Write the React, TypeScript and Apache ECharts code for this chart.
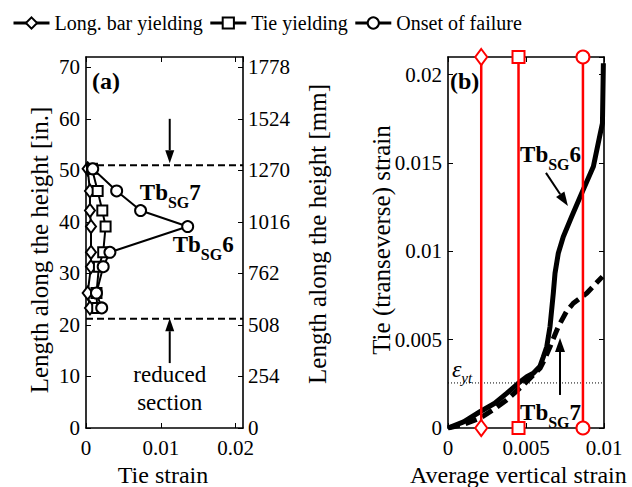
import React, { useEffect, useRef } from 'react';
import * as echarts from 'echarts';

const FONT = 'Liberation Serif, serif';

// ---- Panel (a): strain profiles along the height ----
const heightsIn = [50.3, 46.0, 42.2, 39.1, 34.1, 31.3, 26.2, 23.3];
const barYieldingStrain = [0.00022, 0.00053, 0.00053, 0.00067, 0.00067, 0.00067, 0.00022, 0.00053];
const tieYieldingStrain = [0.0008, 0.00156, 0.00218, 0.00262, 0.0023, 0.00173, 0.0014, 0.0015];
const failureStrain = [0.0009, 0.0041, 0.0073, 0.0136, 0.0032, 0.0023, 0.0014, 0.0021];
const reducedSectionLimits = [51.0, 21.2];
const inchTicks = [0, 10, 20, 30, 40, 50, 60, 70];

// ---- Panel (b): tie strain vs average vertical strain ----
const sg6Avg = [0, 0.001, 0.00205, 0.003, 0.00376, 0.0045, 0.00505, 0.00547, 0.0059, 0.0061, 0.00633, 0.00654, 0.00675, 0.00686, 0.00707, 0.00739, 0.00793, 0.00857, 0.00932, 0.00974, 0.0099, 0.00996];
const sg6Tie = [0, 0.00035, 0.00092, 0.0014, 0.00196, 0.00253, 0.0029, 0.0031, 0.0035, 0.0040, 0.0046, 0.00574, 0.00763, 0.00876, 0.00989, 0.01083, 0.01197, 0.01329, 0.0148, 0.01659, 0.01725, 0.02065];
const sg7Avg = [0, 0.001, 0.00205, 0.003, 0.00376, 0.00483, 0.0059, 0.0062, 0.00654, 0.00707, 0.0076, 0.00803, 0.00889, 0.0099];
const sg7Tie = [0, 0.0002, 0.00055, 0.0011, 0.00159, 0.00243, 0.00338, 0.0039, 0.0046, 0.00574, 0.0066, 0.00706, 0.00763, 0.00857];
const eventNames = ['Long. bar yielding', 'Tie yielding', 'Onset of failure'];
const eventAvgStrain = [0.00213, 0.00452, 0.00865];
const yieldTieStrain = 0.00255;

const X_A_MAX = 0.021;
const Y_A_MAX = 72;
const MM_PER_IN = 25.4;
const X_B_MAX = 0.01;
const Y_B_MAX = 0.021;

const plain = (v: number) => String(Math.round(v * 1e6) / 1e6);

const axisBase = {
  axisLine: { onZero: false, lineStyle: { color: '#000', width: 1.6 } },
  axisTick: { inside: true, length: 5, lineStyle: { color: '#000', width: 1 } },
  splitLine: { show: false },
  axisLabel: { color: '#000', fontSize: 21, lineHeight: 18, fontFamily: FONT, showMaxLabel: false, margin: 6, formatter: plain },
};
const xLabel = { ...axisBase.axisLabel, margin: 11 };

export default function App() {
  const ref = useRef<HTMLDivElement>(null);
  useEffect(() => {
    if (!ref.current) return;
    const chart = echarts.init(ref.current, null, { renderer: 'svg' });
    const blackLine = (name: string, symbol: string, size: any, xs: number[]) => ({
      name,
      type: 'line',
      xAxisIndex: 0,
      yAxisIndex: 0,
      data: heightsIn.map((h, i) => [xs[i], h]),
      symbol,
      symbolSize: size,
      showAllSymbol: true,
      lineStyle: { color: '#000', width: 2 },
      itemStyle: { color: '#000', borderColor: '#000', borderWidth: 2 },
      z: 5,
    });
    const series: any[] = [
      ...reducedSectionLimits.map((h) => ({
        type: 'line', xAxisIndex: 0, yAxisIndex: 0, symbol: 'none',
        data: [[0, h], [X_A_MAX, h]],
        lineStyle: { color: '#000', width: 2, type: [7, 4] }, z: 2,
      })),
      blackLine(eventNames[0], 'emptyDiamond', [10, 13], barYieldingStrain),
      blackLine(eventNames[1], 'emptyRect', 10, tieYieldingStrain),
      blackLine(eventNames[2], 'emptyCircle', 11, failureStrain),
      {
        type: 'line', xAxisIndex: 2, yAxisIndex: 2, symbol: 'none',
        data: [[0, yieldTieStrain], [X_B_MAX, yieldTieStrain]],
        lineStyle: { color: '#000', width: 1, type: [1, 2] }, z: 2,
      },
      {
        type: 'line', xAxisIndex: 2, yAxisIndex: 2, symbol: 'none',
        data: sg7Avg.map((x, i) => [x, sg7Tie[i]]),
        lineStyle: { color: '#000', width: 5, type: [12, 6] }, z: 3,
      },
      {
        type: 'line', xAxisIndex: 2, yAxisIndex: 2, symbol: 'none',
        data: sg6Avg.map((x, i) => [x, sg6Tie[i]]),
        lineStyle: { color: '#000', width: 5 }, z: 3,
      },
      ...eventAvgStrain.map((x, i) => ({
        name: 'red' + i,
        type: 'line', xAxisIndex: 2, yAxisIndex: 2, clip: false,
        data: [[x, 0], [x, Y_B_MAX]],
        symbol: ['emptyDiamond', 'emptyRect', 'emptyCircle'][i],
        symbolSize: [[12, 16], 12, 13][i],
        lineStyle: { color: '#ff0000', width: 2.5 },
        itemStyle: { color: '#ff0000', borderColor: '#ff0000', borderWidth: 2.5 },
        z: 6,
      })),
    ];

    chart.setOption({
      animation: false,
      textStyle: { fontFamily: FONT },
      legend: {
        data: eventNames,
        left: 7, top: 8, itemWidth: 36, itemHeight: 14, itemGap: 6,
        textStyle: { fontSize: 20, fontFamily: FONT, color: '#000' },
        lineStyle: { width: 3 },
      },
      grid: [
        { left: 86, top: 57, width: 157, height: 371, outerBoundsMode: 'none' },
        { left: 448, top: 57, width: 156, height: 371, outerBoundsMode: 'none' },
      ],
      xAxis: [
        { ...axisBase, type: 'value', gridIndex: 0, position: 'bottom', min: 0, max: X_A_MAX, interval: 0.01, axisLabel: xLabel },
        { ...axisBase, type: 'value', gridIndex: 0, position: 'top', min: 0, max: X_A_MAX, interval: 0.01, axisLabel: { show: false } },
        { ...axisBase, type: 'value', gridIndex: 1, position: 'bottom', min: 0, max: X_B_MAX, interval: 0.005, axisLabel: { ...xLabel, showMaxLabel: true } },
        { ...axisBase, type: 'value', gridIndex: 1, position: 'top', min: 0, max: X_B_MAX, interval: 0.005, axisLabel: { show: false } },
      ],
      yAxis: [
        { ...axisBase, type: 'value', gridIndex: 0, position: 'left', min: 0, max: Y_A_MAX, interval: inchTicks[1] - inchTicks[0] },
        { ...axisBase, type: 'value', gridIndex: 0, position: 'right', min: 0, max: Y_A_MAX * MM_PER_IN, interval: (inchTicks[1] - inchTicks[0]) * MM_PER_IN, axisLabel: { ...axisBase.axisLabel, margin: 5 } },
        { ...axisBase, type: 'value', gridIndex: 1, position: 'left', min: 0, max: Y_B_MAX, interval: 0.005 },
        { ...axisBase, type: 'value', gridIndex: 1, position: 'right', min: 0, max: Y_B_MAX, interval: 0.005, axisLabel: { show: false } },
      ],
      series,
    });

    const pa = (x: number, y: number) => chart.convertToPixel({ xAxisIndex: 0, yAxisIndex: 0 }, [x, y]) as number[];
    const pb = (x: number, y: number) => chart.convertToPixel({ xAxisIndex: 2, yAxisIndex: 2 }, [x, y]) as number[];

    const arrow = (a: number[], b: number[], head = 13, hw = 4.5) => {
      const dx = b[0] - a[0], dy = b[1] - a[1];
      const L = Math.hypot(dx, dy);
      const ux = dx / L, uy = dy / L;
      const base = [b[0] - ux * head, b[1] - uy * head];
      const nx = -uy, ny = ux;
      return [
        { type: 'line', shape: { x1: a[0], y1: a[1], x2: base[0], y2: base[1] }, style: { stroke: '#000', lineWidth: 2 }, z: 20 },
        { type: 'polygon', shape: { points: [b, [base[0] + nx * hw, base[1] + ny * hw], [base[0] - nx * hw, base[1] - ny * hw]] }, style: { fill: '#000' }, z: 20 },
      ];
    };
    const txt = (p: number[], text: string, opts: any = {}) => ({
      type: 'text', x: p[0], y: p[1], z: 20,
      style: { text, fill: '#000', fontSize: 22, fontFamily: FONT, align: 'center', verticalAlign: 'middle', ...opts },
    });
    const tb = (p: number[], n: string) => ({
      type: 'text', x: p[0], y: p[1], z: 20,
      style: {
        text: `{a|Tb}{s|SG}{a|${n}}`, align: 'left', verticalAlign: 'middle',
        rich: {
          a: { fontSize: 23, fontWeight: 'bold', fontFamily: FONT, fill: '#000', verticalAlign: 'bottom', padding: [0, 0, 6, 0] },
          s: { fontSize: 16, fontWeight: 'bold', fontFamily: FONT, fill: '#000', verticalAlign: 'bottom' },
        },
      },
    });

    const graphic: any[] = [
      txt(pa(0.0008, 67.4), '(a)', { align: 'left', fontWeight: 'bold', fontSize: 24 }),
      txt(pb(0.00013, 0.01965), '(b)', { align: 'left', fontWeight: 'bold', fontSize: 24 }),
      ...arrow(pa(0.0112, 60), pa(0.0112, 51.4)),
      ...arrow(pa(0.0112, 12.6), pa(0.0112, 21.3)),
      txt(pa(0.0112, 10.3), 'reduced', { fontSize: 23 }),
      txt(pa(0.0112, 5.0), 'section', { fontSize: 23 }),
      tb(pa(0.0072, 45.1), '7'),
      tb(pa(0.0116, 35.0), '6'),
      tb(pb(0.00462, 0.0153), '6'),
      tb(pb(0.00462, 0.0007), '7'),
      ...arrow(pb(0.00628, 0.01444), pb(0.00769, 0.01257), 14, 5),
      ...arrow(pb(0.00718, 0.00187), pb(0.00718, 0.0051), 14, 5),
      {
        type: 'text', z: 20, ...(() => { const p = pb(0.00025, 0.0032); return { x: p[0], y: p[1] }; })(),
        style: {
          text: '{e|ε}{s|yt}', align: 'left', verticalAlign: 'middle',
          rich: {
            e: { fontSize: 24, fontStyle: 'italic', fontFamily: FONT, fill: '#000', verticalAlign: 'bottom', padding: [0, 0, 4, 0] },
            s: { fontSize: 15, fontStyle: 'italic', fontFamily: FONT, fill: '#000', verticalAlign: 'bottom' },
          },
        },
      },
      { type: 'text', x: 39, y: 250, rotation: Math.PI / 2, z: 20, style: { text: 'Length along the height [in.]', fill: '#000', fontSize: 25, fontFamily: FONT, align: 'center', verticalAlign: 'middle' } },
      { type: 'text', x: 317, y: 234, rotation: Math.PI / 2, z: 20, style: { text: 'Length along the height [mm]', fill: '#000', fontSize: 25, fontFamily: FONT, align: 'center', verticalAlign: 'middle' } },
      { type: 'text', x: 381, y: 240, rotation: Math.PI / 2, z: 20, style: { text: 'Tie (transeverse) strain', fill: '#000', fontSize: 25, fontFamily: FONT, align: 'center', verticalAlign: 'middle' } },
      { type: 'text', x: 163, y: 475, z: 20, style: { text: 'Tie strain', fill: '#000', fontSize: 24, fontFamily: FONT, align: 'center', verticalAlign: 'middle' } },
      { type: 'text', x: 410, y: 475, z: 20, style: { text: 'Average vertical strain', fill: '#000', fontSize: 24, fontFamily: FONT, align: 'left', verticalAlign: 'middle' } },
    ];
    chart.setOption({ graphic });

    return () => chart.dispose();
  }, []);
  return <div ref={ref} style={{ position: 'fixed', left: 0, top: 0, width: 632, height: 487, background: '#fff' }} />;
}
